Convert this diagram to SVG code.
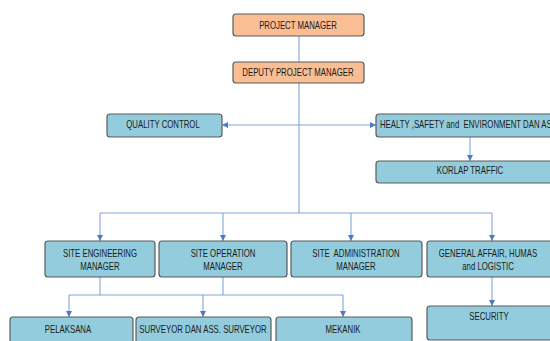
<svg xmlns="http://www.w3.org/2000/svg" width="550" height="341" viewBox="0 0 550 341">
  <style>
    .orange { fill: #F9BE94; stroke: #5a5a5a; stroke-width: 1.2; }
    .blue { fill: #93CDDD; stroke: #5a5a5a; stroke-width: 1.2; }
    .lbl { font-family: "Liberation Sans", Arial, sans-serif; font-size: 10px; fill: #1a1a1a; text-anchor: middle; white-space: pre; }
    .lbl-l { text-anchor: start; }
    .conn { fill: none; stroke: #7FA6DA; stroke-width: 1.1; }
  </style>
  <defs>
    <marker id="arrow" viewBox="0 0 6 6" refX="6" refY="3" markerWidth="6" markerHeight="6" markerUnits="userSpaceOnUse" orient="auto">
      <path d="M0,0 L6,3 L0,6 Z" fill="#4A7BC4"/>
    </marker>
  </defs>
  <rect width="550" height="341" fill="#ffffff"/>

  <g id="connectors">
    <path class="conn" d="M299,36 V62"/>
    <path class="conn" d="M299,83 V213"/>
    <path class="conn" d="M299,125 H222" marker-end="url(#arrow)"/>
    <path class="conn" d="M299,125 H376" marker-end="url(#arrow)"/>
    <path class="conn" d="M470,137 V161" marker-end="url(#arrow)"/>
    <path class="conn" d="M100,213 H492"/>
    <path class="conn" d="M100,213 V241" marker-end="url(#arrow)"/>
    <path class="conn" d="M223,213 V241" marker-end="url(#arrow)"/>
    <path class="conn" d="M351,213 V241" marker-end="url(#arrow)"/>
    <path class="conn" d="M492,213 V241" marker-end="url(#arrow)"/>
    <path class="conn" d="M492,277 V306" marker-end="url(#arrow)"/>
    <path class="conn" d="M100,277 V295"/>
    <path class="conn" d="M223,277 V295"/>
    <path class="conn" d="M69,295 H343"/>
    <path class="conn" d="M69,295 V317" marker-end="url(#arrow)"/>
    <path class="conn" d="M203,295 V317" marker-end="url(#arrow)"/>
    <path class="conn" d="M343,295 V317" marker-end="url(#arrow)"/>
  </g>

  <!-- labels use a horizontally condensed sans (matrix scaleX 0.78 at the label centre) -->
  <g id="project-manager">
    <rect class="orange" x="233" y="14" width="131" height="22" rx="3"/>
    <text class="lbl" transform="matrix(0.78 0 0 1 298 29)">PROJECT MANAGER</text>
  </g>
  <g id="deputy-project-manager">
    <rect class="orange" x="233" y="62" width="131" height="21" rx="3"/>
    <text class="lbl" transform="matrix(0.78 0 0 1 298 76)">DEPUTY PROJECT MANAGER</text>
  </g>
  <g id="quality-control">
    <rect class="blue" x="107" y="114" width="115" height="23" rx="3"/>
    <text class="lbl" transform="matrix(0.78 0 0 1 163 128)">QUALITY CONTROL</text>
  </g>
  <g id="hse">
    <rect class="blue" x="376" y="114" width="190" height="23" rx="3"/>
    <text class="lbl lbl-l" transform="matrix(0.78 0 0 1 380 128)">HEALTY ,SAFETY and  ENVIRONMENT DAN ASS</text>
  </g>
  <g id="korlap-traffic">
    <rect class="blue" x="376" y="161" width="190" height="22" rx="3"/>
    <text class="lbl" transform="matrix(0.78 0 0 1 470 174)">KORLAP TRAFFIC</text>
  </g>
  <g id="site-engineering-manager">
    <rect class="blue" x="45" y="241" width="110" height="36" rx="3"/>
    <text class="lbl" transform="matrix(0.78 0 0 1 100 257)">SITE ENGINEERING</text>
    <text class="lbl" transform="matrix(0.78 0 0 1 100 269.5)">MANAGER</text>
  </g>
  <g id="site-operation-manager">
    <rect class="blue" x="159" y="241" width="128" height="36" rx="3"/>
    <text class="lbl" transform="matrix(0.78 0 0 1 223 257)">SITE OPERATION</text>
    <text class="lbl" transform="matrix(0.78 0 0 1 223 269.5)">MANAGER</text>
  </g>
  <g id="site-administration-manager">
    <rect class="blue" x="291" y="241" width="131" height="36" rx="3"/>
    <text class="lbl" transform="matrix(0.78 0 0 1 356 257)">SITE  ADMINISTRATION</text>
    <text class="lbl" transform="matrix(0.78 0 0 1 356 269.5)">MANAGER</text>
  </g>
  <g id="general-affair">
    <rect class="blue" x="427" y="241" width="140" height="36" rx="3"/>
    <text class="lbl" transform="matrix(0.78 0 0 1 488 257)">GENERAL AFFAIR, HUMAS</text>
    <text class="lbl" transform="matrix(0.78 0 0 1 488 269.5)">and LOGISTIC</text>
  </g>
  <g id="pelaksana">
    <rect class="blue" x="10" y="317" width="123" height="30" rx="3"/>
    <text class="lbl" transform="matrix(0.78 0 0 1 68 333)">PELAKSANA</text>
  </g>
  <g id="surveyor">
    <rect class="blue" x="136" y="317" width="135" height="30" rx="3"/>
    <text class="lbl" transform="matrix(0.78 0 0 1 203 333)">SURVEYOR DAN ASS. SURVEYOR</text>
  </g>
  <g id="mekanik">
    <rect class="blue" x="276" y="317" width="136" height="30" rx="3"/>
    <text class="lbl" transform="matrix(0.78 0 0 1 343 333)">MEKANIK</text>
  </g>
  <g id="security">
    <rect class="blue" x="427" y="306" width="140" height="34" rx="3"/>
    <text class="lbl" transform="matrix(0.78 0 0 1 489 320)">SECURITY</text>
  </g>
</svg>
